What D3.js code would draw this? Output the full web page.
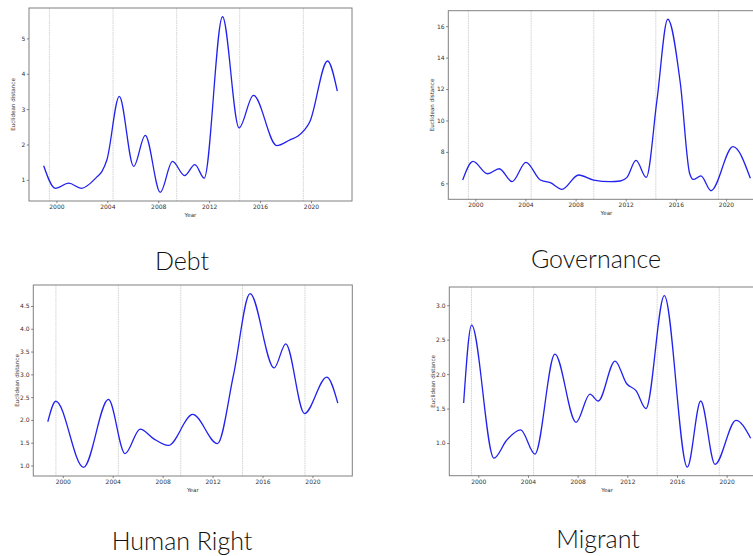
<!DOCTYPE html>
<html lang="en">
  <head>
    <meta charset="UTF-8" />
    <title>Euclidean distance by topic</title>
    <script src="https://d3js.org/d3.v7.min.js"></script>
    <style>
      body { margin: 0; background: #fff; }
    </style>
  </head>

  <body>
    <div id="graph"></div>
    <script>
      // data (year, distance)
      const debtYears = [1999.0, 1999.92, 2000.97, 2001.96, 2003.2, 2003.58, 2003.97, 2004.94, 2006.07, 2006.98, 2008.16, 2009.12, 2010.07, 2010.88, 2011.61, 2013.05, 2014.35, 2015.48, 2017.31, 2018.35, 2018.95, 2019.92, 2021.3, 2022.07]
      const debtValues = [1.4, 0.76, 0.905, 0.76, 1.09, 1.24, 1.57, 3.36, 1.38, 2.26, 0.65, 1.52, 1.12, 1.43, 1.05, 5.61, 2.47, 3.39, 1.97, 2.13, 2.23, 2.65, 4.36, 3.51]

      const govYears = [1998.99, 1999.81, 2000.98, 2001.91, 2002.93, 2004.04, 2005.19, 2005.98, 2006.91, 2008.24, 2009.44, 2010.77, 2011.57, 2012.1, 2012.82, 2013.64, 2014.49, 2015.35, 2016.36, 2017.1, 2017.4, 2018.0, 2018.8, 2020.56, 2021.94]
      const govValues = [6.21, 7.4, 6.61, 6.93, 6.11, 7.33, 6.21, 6.04, 5.62, 6.53, 6.21, 6.11, 6.15, 6.38, 7.46, 6.38, 11.29, 16.44, 12.34, 6.63, 6.25, 6.47, 5.53, 8.33, 6.32]

      const humanYears = [1998.8, 1999.44, 2001.66, 2003.66, 2004.99, 2006.2, 2007.26, 2008.46, 2010.41, 2012.39, 2013.67, 2015.0, 2016.93, 2017.86, 2019.36, 2021.15, 2022.03]
      const humanValues = [1.96, 2.41, 0.96, 2.45, 1.26, 1.8, 1.59, 1.44, 2.12, 1.48, 2.98, 4.77, 3.14, 3.67, 2.14, 2.94, 2.37]

      const migrantYears = [1998.82, 1999.46, 2001.26, 2002.28, 2003.41, 2004.56, 2006.17, 2007.87, 2008.99, 2009.66, 2011.01, 2011.95, 2012.7, 2013.5, 2014.98, 2016.83, 2017.91, 2019.06, 2020.75, 2021.93]
      const migrantValues = [1.58, 2.71, 0.78, 1.04, 1.19, 0.84, 2.29, 1.3, 1.71, 1.61, 2.19, 1.86, 1.76, 1.5, 3.14, 0.65, 1.61, 0.69, 1.33, 1.07]

      // tick labels
      const xTicks = [2000, 2004, 2008, 2012, 2016, 2020]
      const debtTicks = [1, 2, 3, 4, 5]
      const govTicks = [6, 8, 10, 12, 14, 16]
      const humanTicks = [1.0, 1.5, 2.0, 2.5, 3.0, 3.5, 4.0, 4.5]
      const migrantTicks = [1.0, 1.5, 2.0, 2.5, 3.0]
      // vertical markers (election years)
      const markerYears = [1999.45, 2004.45, 2009.45, 2014.4, 2019.4]
      const titles = ['Debt', 'Governance', 'Human Right', 'Migrant']

      const W = 753
      const H = 556
      const svg = d3.select('#graph').append('svg').attr('width', W).attr('height', H)
      svg.append('rect').attr('width', W).attr('height', H).attr('fill', '#fff')

      // frame of each panel: left, top, right, bottom; title centre
      const panels = [
        { xs: debtYears, ys: debtValues, ticks: debtTicks, fmt: d3.format('d'), box: [29, 8, 352, 201], title: [182, 270] },
        { xs: govYears, ys: govValues, ticks: govTicks, fmt: d3.format('d'), box: [448.3, 10.7, 764.7, 199.3], title: [596, 268] },
        { xs: humanYears, ys: humanValues, ticks: humanTicks, fmt: d3.format('.1f'), box: [33.3, 285, 352.3, 476], title: [182, 550] },
        { xs: migrantYears, ys: migrantValues, ticks: migrantTicks, fmt: d3.format('.1f'), box: [449.3, 287, 765, 475.7], title: [598, 548] }
      ]

      // matplotlib style 5% margins
      const pad = (ext) => {
        const m = (ext[1] - ext[0]) * 0.05
        return [ext[0] - m, ext[1] + m]
      }

      panels.forEach((p, i) => {
        const [x0, y0, x1, y1] = p.box
        const x = d3.scaleLinear().domain(pad(d3.extent(p.xs))).range([x0, x1])
        const y = d3.scaleLinear().domain(pad(d3.extent(p.ys))).range([y1, y0])
        const g = svg.append('g')

        // election markers
        g.selectAll('line.mark')
          .data(markerYears)
          .join('line')
          .attr('class', 'mark')
          .attr('x1', (d) => x(d))
          .attr('x2', (d) => x(d))
          .attr('y1', y0)
          .attr('y2', y1)
          .attr('stroke', '#cfcfcf')
          .attr('stroke-width', 0.9)
          .attr('stroke-dasharray', '1.6,0.8')

        // the curve
        const pts = p.xs.map((d, k) => [d, p.ys[k]])
        g.append('path')
          .datum(pts)
          .attr('fill', 'none')
          .attr('stroke', '#2222ee')
          .attr('stroke-width', 1.3)
          .attr('d', d3.line().x((d) => x(d[0])).y((d) => y(d[1])).curve(d3.curveMonotoneX))

        // frame
        g.append('rect')
          .attr('x', x0)
          .attr('y', y0)
          .attr('width', x1 - x0)
          .attr('height', y1 - y0)
          .attr('fill', 'none')
          .attr('stroke', '#808080')
          .attr('stroke-width', 1)

        // axes
        const xAxis = d3.axisBottom(x).tickValues(xTicks).tickFormat(d3.format('d')).tickSize(2.2).tickPadding(1.5)
        const yAxis = d3.axisLeft(y).tickValues(p.ticks).tickFormat(p.fmt).tickSize(2.2).tickPadding(1.5)
        const gx = g.append('g').attr('transform', `translate(0,${y1})`).call(xAxis)
        const gy = g.append('g').attr('transform', `translate(${x0},0)`).call(yAxis)
        ;[gx, gy].forEach((a) => {
          a.select('.domain').remove()
          a.selectAll('line').attr('stroke', '#555').attr('stroke-width', 0.7)
          a.selectAll('text').attr('fill', '#333').attr('font-family', 'DejaVu Sans').attr('font-size', 6)
        })

        // axis titles
        g.append('text')
          .attr('x', (x0 + x1) / 2)
          .attr('y', y1 + 16)
          .attr('text-anchor', 'middle')
          .attr('font-family', 'DejaVu Sans')
          .attr('font-size', 5.6)
          .attr('fill', '#333')
          .text('Year')
        g.append('text')
          .attr('transform', `translate(${x0 - 14},${(y0 + y1) / 2}) rotate(-90)`)
          .attr('text-anchor', 'middle')
          .attr('font-family', 'DejaVu Sans')
          .attr('font-size', 5.6)
          .attr('fill', '#333')
          .text('Euclidean distance')

        // caption under the panel
        svg.append('text')
          .attr('x', p.title[0])
          .attr('y', p.title[1])
          .attr('text-anchor', 'middle')
          .attr('font-family', 'Lato')
          .attr('font-weight', 300)
          .attr('font-size', 25)
          .attr('fill', '#111')
          .text(titles[i])
      })
    </script>
  </body>
</html>
